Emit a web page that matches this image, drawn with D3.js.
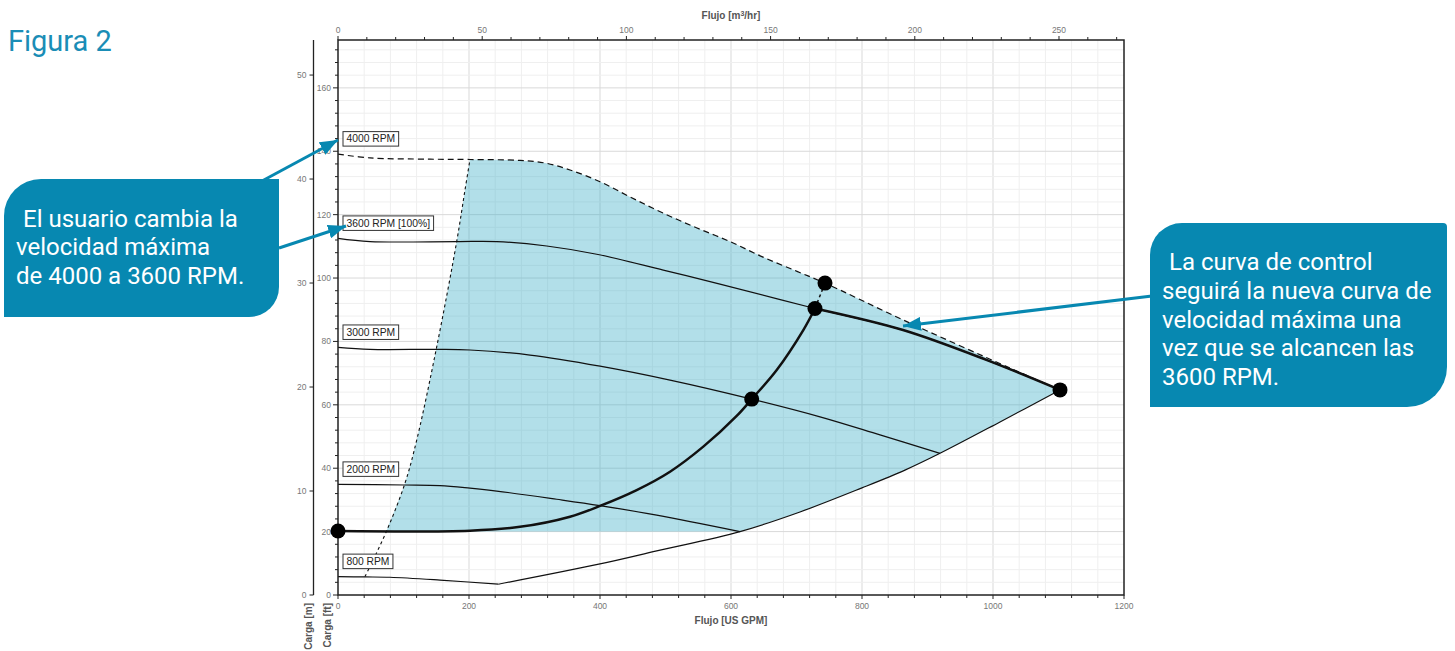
<!DOCTYPE html>
<html><head><meta charset="utf-8">
<script src="https://cdn.jsdelivr.net/npm/d3@7/dist/d3.min.js"></script>
<style>
html,body{margin:0;padding:0;background:#fff;}
svg{display:block;}
</style></head>
<body>
<svg id="c" width="1455" height="651"></svg>
<script>
// ---------- DATA (GPM, ft) ----------
const gpmTicks = [0, 200, 400, 600, 800, 1000, 1200];
const m3hTicks = [0, 50, 100, 150, 200, 250];
const ftTicks = [0, 20, 40, 60, 80, 100, 120, 140, 160];
const mTicks = [0, 10, 20, 30, 40, 50];

const curve4000 = [[0,139.1],[48.9,137.9],[140.5,137.5],[201.5,137.4],[277.9,137.1],[316.0,136.3],[354.2,134.1],[400,130.4],[445.8,125.6],[496.2,120.5],[548.1,115.8],[598.5,111.5],[648.9,106.6],[700.8,102.1],[743.5,98.4],[862.6,86.8],[1026,71.6],[1102.3,64.7]];
const curve3600 = [[0,112.5],[48.9,111.5],[181.2,111.5],[242.3,111.5],[318.6,110.1],[395,107.5],[496.6,102.5],[583.2,98.1],[728.2,90.4],[862.6,83.6],[990.8,74.1],[1102.3,64.7]];
const curve3000 = [[0,78.1],[48.9,77.5],[150.7,77.5],[201.5,77.3],[293.1,75.7],[400,72.2],[506.9,67.8],[631.6,61.8],[735.9,56.2],[827.5,50.5],[919.1,44.7]];
const curve2000 = [[0,34.9],[102.3,34.7],[155.7,34.5],[201.5,33.7],[242.3,32.8],[333.9,30.2],[400,28.2],[486.6,25.2],[613.7,20.0]];
const curve800 = [[0,5.8],[41,5.7],[79.4,5.6],[155.7,4.7],[244.7,3.4]];
const endOfCurve = [[244.7,3.4],[400,9.8],[486.6,13.9],[613.7,20.0],[705.3,26.2],[800,33.8],[865.6,39.4],[919.1,44.7],[1010.7,54.6],[1102.3,64.7]];
const minFlow = [[41.2,5.8],[74.4,20.3],[102.3,35.3],[120.2,48.9],[150.7,78.3],[181.2,111.5],[193.9,127.8],[201.5,137.4]];
const controlRise = [[0,20.2],[201.5,20.3],[277.9,21.5],[354.2,24.7],[400,28.1],[456,33.1],[506.9,38.9],[557.7,46.8],[608.7,56.5],[631.6,61.8],[669.8,71.0],[710.4,83.6],[728.2,90.4]];
const controlMax = [[728.2,90.4],[862.6,83.6],[990.8,74.1],[1102.3,64.7]];
const controlExt = [[728.2,90.4],[743.5,98.4]];
const controlPoints = [[0,20.2],[631.6,61.8],[728.2,90.4],[743.5,98.4],[1102.3,64.7]];
const shadeFloorFt = 20;
const speedLabels = ["4000 RPM","3600 RPM [100%]","3000 RPM","2000 RPM","800 RPM"];
const speedLabelFt = [139.1,112.5,78.1,34.9,5.8];

// ---------- SCALES ----------
const svg = d3.select("#c");
const L = 338, R = 1124, T = 40, B = 595;
const x = d3.scaleLinear().domain([0,1200]).range([L,R]);
const y = d3.scaleLinear().domain([0,175.1]).range([B,T]);
const xTop = d3.scaleLinear().domain([0,1200*0.22712]).range([L,R]);
const yM = d3.scaleLinear().domain([0,175.1*0.3048]).range([B,T]);

const tickCol = "#777", titleCol = "#555", axisCol = "#222";

// ---------- GRID ----------
const grid = svg.append("g");
d3.range(40,1200,40).forEach(v=>{
  grid.append("line").attr("x1",x(v)).attr("x2",x(v)).attr("y1",T).attr("y2",B)
    .attr("stroke", v%200===0 ? "#d9d9d9" : "#efefef").attr("stroke-width",1);
});
d3.range(4,176,4).forEach(v=>{
  grid.append("line").attr("x1",L).attr("x2",R).attr("y1",y(v)).attr("y2",y(v))
    .attr("stroke", v%20===0 ? "#d9d9d9" : "#efefef").attr("stroke-width",1);
});

// ---------- SHADE ----------
const lineGen = d3.line().x(d=>x(d[0])).y(d=>y(d[1])).curve(d3.curveCatmullRom.alpha(0.5));
const polyGen = d3.line().x(d=>x(d[0])).y(d=>y(d[1])).curve(d3.curveLinear);
const shadeLeft = minFlow.filter(d=>d[1]>=shadeFloorFt);
const shadeTop = curve4000.filter(d=>d[0]>=201.5);
const shadeRight = endOfCurve.filter(d=>d[1]>=shadeFloorFt).slice().reverse();
const shadeD = lineGen([[74.4,shadeFloorFt]].concat(shadeLeft))
  + lineGen(shadeTop).replace(/^M/,"L")
  + lineGen(shadeRight).replace(/^M/,"L") + "Z";
svg.append("path").attr("d",shadeD)
  .attr("fill","rgb(62,176,200)").attr("fill-opacity",0.4).attr("stroke","none");

// ---------- CURVES ----------
function drawCurve(data, w, dash, gen){
  svg.append("path").attr("d",(gen||lineGen)(data)).attr("fill","none")
    .attr("stroke","#111").attr("stroke-width",w).attr("stroke-dasharray",dash||null)
    .attr("stroke-linejoin","round");
}
drawCurve(curve3600,1.2);
drawCurve(curve3000,1.2);
drawCurve(curve2000,1.2);
drawCurve(curve800,1.2);
drawCurve(endOfCurve,1.2);
drawCurve(minFlow,1.1,"3,3");
drawCurve(curve4000,1.2,"6,4");
drawCurve(controlRise,2.5);
drawCurve(controlMax,2.5);
drawCurve(controlExt,1.5,"3,3", polyGen);

// ---------- AXES ----------
const ax = svg.append("g").attr("font-family","Liberation Sans, Arial, sans-serif");
ax.append("rect").attr("x",L).attr("y",T).attr("width",R-L).attr("height",B-T)
  .attr("fill","none").attr("stroke",axisCol).attr("stroke-width",1.5);
// bottom
d3.range(0,1201,40).forEach(v=>{
  ax.append("line").attr("x1",x(v)).attr("x2",x(v)).attr("y1",B).attr("y2",B+(v%200===0?4:3))
    .attr("stroke",axisCol).attr("stroke-width",1);
});
gpmTicks.forEach(v=>{
  ax.append("text").attr("x",x(v)).attr("y",B+14).attr("text-anchor","middle")
    .attr("font-size",8.5).attr("fill",tickCol).text(v);
});
ax.append("text").attr("x",(L+R)/2).attr("y",624).attr("text-anchor","middle")
  .attr("font-size",10).attr("font-weight","bold").attr("fill",titleCol).text("Flujo [US GPM]");
// top
d3.range(0,271,10).forEach(v=>{
  ax.append("line").attr("x1",xTop(v)).attr("x2",xTop(v)).attr("y1",T).attr("y2",T-(v%50===0?4:3))
    .attr("stroke",axisCol).attr("stroke-width",1);
});
m3hTicks.forEach(v=>{
  ax.append("text").attr("x",xTop(v)).attr("y",33).attr("text-anchor","middle")
    .attr("font-size",8.5).attr("fill",tickCol).text(v);
});
const tt = ax.append("text").attr("x",(L+R)/2).attr("y",19).attr("text-anchor","middle")
  .attr("font-size",10).attr("font-weight","bold").attr("fill",titleCol);
tt.append("tspan").text("Flujo [m");
tt.append("tspan").attr("font-size",7).attr("dy",-3).text("3");
tt.append("tspan").attr("dy",3).text("/hr]");
// left ft
d3.range(0,176,4).forEach(v=>{
  ax.append("line").attr("x1",L-(v%20===0?5:3)).attr("x2",L).attr("y1",y(v)).attr("y2",y(v))
    .attr("stroke",axisCol).attr("stroke-width",1);
});
ftTicks.forEach(v=>{
  ax.append("text").attr("x",L-7).attr("y",y(v)+3).attr("text-anchor","end")
    .attr("font-size",8.5).attr("fill",tickCol).text(v);
});
// left m
const MX = 313.5;
ax.append("line").attr("x1",MX).attr("x2",MX).attr("y1",T).attr("y2",B)
  .attr("stroke",axisCol).attr("stroke-width",1.3);
mTicks.forEach(v=>{
  ax.append("line").attr("x1",MX-4).attr("x2",MX).attr("y1",yM(v)).attr("y2",yM(v))
    .attr("stroke",axisCol).attr("stroke-width",1);
  ax.append("text").attr("x",MX-7).attr("y",yM(v)+3).attr("text-anchor","end")
    .attr("font-size",8.5).attr("fill",tickCol).text(v);
});
ax.append("text").attr("transform","translate(312,603) rotate(-90)").attr("text-anchor","end")
  .attr("font-size",10).attr("font-weight","bold").attr("fill",titleCol).text("Carga [m]");
ax.append("text").attr("transform","translate(331,603) rotate(-90)").attr("text-anchor","end")
  .attr("font-size",10).attr("font-weight","bold").attr("fill",titleCol).text("Carga [ft]");

// ---------- SPEED LABELS ----------
speedLabels.forEach((s,i)=>{
  const g = svg.append("g").attr("font-family","Liberation Sans, Arial, sans-serif");
  const by = y(speedLabelFt[i]) - 8;
  const t = g.append("text").attr("x",L+8.5).attr("y",by-3.8).attr("font-size",10.3).attr("fill","#222").text(s);
  const w = t.node().getComputedTextLength();
  g.insert("rect","text").attr("x",L+5).attr("y",by-14.5).attr("width",w+7).attr("height",14.5)
    .attr("fill","#fff").attr("stroke","#333").attr("stroke-width",1);
});

// ---------- DOTS ----------
svg.selectAll("circle.pt").data(controlPoints).enter().append("circle")
  .attr("cx",d=>x(d[0])).attr("cy",d=>y(d[1])).attr("r",7.5).attr("fill","#000");

// ---------- CALLOUTS ----------
const blue = "#0788b1";
svg.append("defs").append("marker").attr("id","ah").attr("markerUnits","userSpaceOnUse")
  .attr("markerWidth",20).attr("markerHeight",14).attr("refX",18).attr("refY",7).attr("orient","auto")
  .append("path").attr("d","M0,0 L18,7 L0,14 Z").attr("fill",blue);
function arrow(x1,y1,x2,y2){
  svg.append("line").attr("x1",x1).attr("y1",y1).attr("x2",x2).attr("y2",y2)
    .attr("stroke",blue).attr("stroke-width",3).attr("marker-end","url(#ah)");
}
arrow(262,181,338,140);
arrow(279,248,346,226);
arrow(1152,296,903,326);

svg.append("text").attr("x",8).attr("y",51).attr("font-family","Roboto, sans-serif")
  .attr("font-size",29).attr("fill","#1a8db6").text("Figura 2");

// left box
svg.append("path").attr("d","M41,179 H279 V287 A30,30 0 0 1 249,317 H4 V216 A37,37 0 0 1 41,179 Z").attr("fill",blue);
const lt = ["El usuario cambia la","velocidad máxima","de 4000 a 3600 RPM."];
const ltx = [23,16,16];
lt.forEach((s,i)=>svg.append("text").attr("x",ltx[i]).attr("y",227+i*28.3).attr("font-family","Roboto, sans-serif")
  .attr("font-size",24).attr("fill","#fff").text(s));
// right box
svg.append("path").attr("d","M1182,223 H1443 A4,4 0 0 1 1447,227 V367 A40,40 0 0 1 1407,407 H1150 V255 A32,32 0 0 1 1182,223 Z").attr("fill",blue);
const rt = ["La curva de control","seguirá la nueva curva de","velocidad máxima una","vez que se alcancen las","3600 RPM."];
const rtx = [1169,1162,1162,1162,1162];
rt.forEach((s,i)=>svg.append("text").attr("x",rtx[i]).attr("y",270+i*28.8).attr("font-family","Roboto, sans-serif")
  .attr("font-size",24).attr("fill","#fff").text(s));
</script>
</body></html>
